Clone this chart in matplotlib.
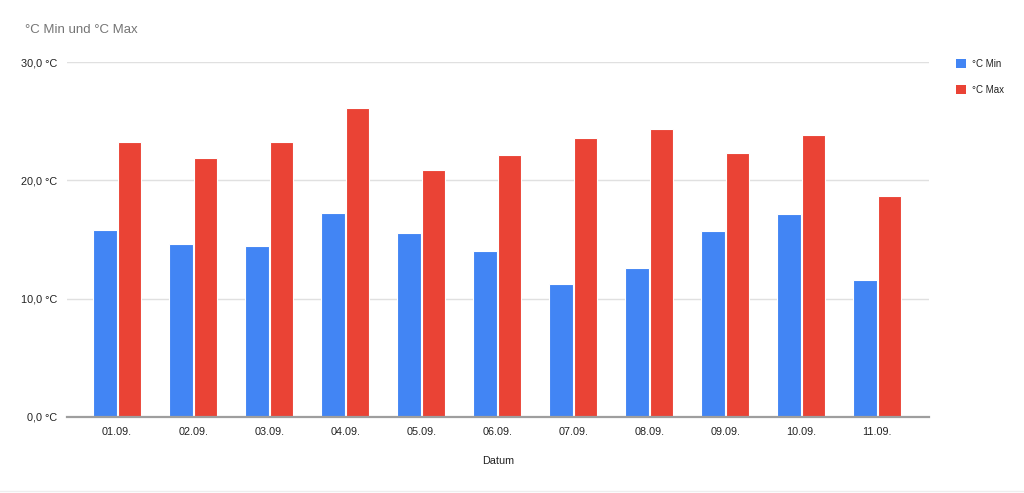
import matplotlib
matplotlib.use("Agg")
import matplotlib.pyplot as plt
import numpy as np
from matplotlib.patches import Patch
from matplotlib.lines import Line2D

categories = ["01.09.", "02.09.", "03.09.", "04.09.", "05.09.", "06.09.",
              "07.09.", "08.09.", "09.09.", "10.09.", "11.09."]
t_min = [15.8, 14.6, 14.45, 17.25, 15.55, 14.0, 11.2, 12.6, 15.7, 17.15, 11.55]
t_max = [23.2, 21.85, 23.25, 26.1, 20.85, 22.1, 23.6, 24.3, 22.3, 23.85, 18.7]
yticks = [0, 10, 20, 30]
series_names = ["°C Min", "°C Max"]

plt.rcParams['font.family'] = ['Liberation Sans', 'DejaVu Sans']

BLUE = "#4285F4"
RED = "#EA4335"

fig = plt.figure(figsize=(10.24, 4.93), dpi=100)
ax = fig.add_axes([67/1024, (493-417)/493, 862/1024, 355/493])

x = np.arange(len(categories))
w = 0.31
off = 0.163
ax.bar(x - off, t_min, width=w, color=BLUE, edgecolor="white", linewidth=0.8, zorder=3)
ax.bar(x + off, t_max, width=w, color=RED, edgecolor="white", linewidth=0.8, zorder=3)

ax.set_xlim(-0.66, len(categories) - 1 + 0.68)
ax.set_ylim(0, 30)
ax.set_yticks(yticks)
ax.set_yticklabels([f"{v:.1f}".replace(".", ",") + " °C" for v in yticks])
ax.set_xticks(x)
ax.set_xticklabels(categories)

ax.grid(axis="y", color="#E0E0E0", linewidth=1, zorder=0)
for s in ["top", "right", "left"]:
    ax.spines[s].set_visible(False)
ax.spines["bottom"].set_color("#9E9E9E")
ax.spines["bottom"].set_linewidth(1.6)
ax.spines["bottom"].set_zorder(4)
ax.tick_params(axis="both", length=0, labelsize=7.8, labelcolor="#222222")
ax.tick_params(axis="x", pad=7)
ax.tick_params(axis="y", pad=7)

ax.set_xlabel("Datum", fontsize=7.8, color="#222222", labelpad=14)

fig.text(25/1024, 1 - 30/493, "°C Min und °C Max", fontsize=9.5, color="#757575",
         ha="left", va="center")

handles = [Patch(facecolor=BLUE, edgecolor="none"), Patch(facecolor=RED, edgecolor="none")]
fig.legend(handles, series_names, loc="upper left", bbox_to_anchor=(947/1024, 1 - 50/493),
           frameon=False, fontsize=7, handlelength=1.05, handleheight=1.05,
           handletextpad=0.6, labelspacing=1.65, labelcolor="#222222")

fig.add_artist(Line2D([0, 1], [2/493, 2/493], transform=fig.transFigure,
                      color="#EEEEEE", linewidth=1))

fig.savefig("out.png", dpi=100, facecolor="white")
